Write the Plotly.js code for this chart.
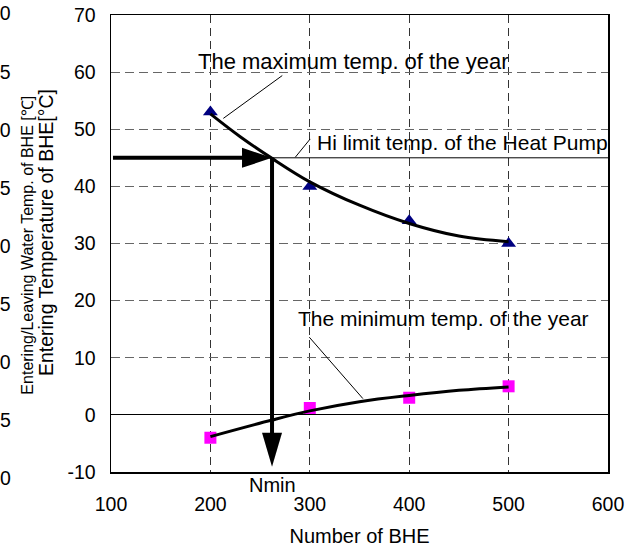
<!DOCTYPE html>
<html>
<head>
<meta charset="utf-8">
<script src="https://cdn.plot.ly/plotly-3.0.1.min.js"></script>
<style>html,body{margin:0;padding:0;background:#fff;}#chart{width:635px;height:551px;}</style>
</head>
<body>
<div id="chart"></div>
<script>
// ---- data ----
const bheCounts = [200, 300, 400, 500];
const maxTemp = [53, 40, 34, 30];
const minTemp = [-4, 1.2, 3, 5];

// trend curves
const maxCurveX = [200, 230, 262, 300, 350, 400, 450, 500];
const maxCurveY = [52.7, 48.7, 44.9, 40.8, 36.7, 33.5, 31.3, 30.3];
const minCurveX = [200, 262, 300, 350, 400, 450, 500];
const minCurveY = [-3.8, -0.9, 0.7, 2.3, 3.4, 4.3, 4.9];

// design point
const nMin = 262;
const hiLimit = 45;
const arrowStartX = 102;
const arrowTipY = -9.1;

// tick labels
const xTickVals = [100, 200, 300, 400, 500, 600];
const yTickVals = [-10, 0, 10, 20, 30, 40, 50, 60, 70];
// second (cut-off) scale on the far left: 0..40
const y2TickVals = [0, 5, 10, 15, 20, 25, 30, 35, 40];
const y2PaperBase = -0.0138;  // paper height where the second scale reads 0
const y2PaperStep = 0.02543;  // paper height per unit of the second scale

// leader lines [x0, y0, x1, y1]
const maxLeader = [213, 51.9, 272.3, 59.4];
const hiLeader = [285.4, 45.1, 300.4, 48.3];
const minLeader = [299.5, 13.6, 353.4, 2.85];

const FONT = "Arial, 'Liberation Sans', sans-serif";

const traces = [
  {x: bheCounts, y: maxTemp, type: 'scatter', mode: 'markers',
   marker: {symbol: 'triangle-up', size: 13, color: '#000080'}, showlegend: false, cliponaxis: false},
  {x: bheCounts, y: minTemp, type: 'scatter', mode: 'markers',
   marker: {symbol: 'square', size: 12, color: '#FF00FF'}, showlegend: false, cliponaxis: false},
  {x: maxCurveX, y: maxCurveY, type: 'scatter', mode: 'lines',
   line: {color: '#000', width: 3, shape: 'spline', smoothing: 1}, showlegend: false},
  {x: minCurveX, y: minCurveY, type: 'scatter', mode: 'lines',
   line: {color: '#000', width: 3, shape: 'spline', smoothing: 1}, showlegend: false}
];

function seg(c, w) {
  return {type: 'line', xref: 'x', yref: 'y', x0: c[0], y0: c[1], x1: c[2], y1: c[3],
          line: {color: '#000', width: w}};
}

const shapes = [
  {type: 'line', xref: 'x', yref: 'y', x0: nMin, x1: 600, y0: hiLimit, y1: hiLimit,
   line: {color: '#000', width: 1}},
  {type: 'line', xref: 'x', yref: 'y', x0: arrowStartX, x1: nMin - 20, y0: hiLimit, y1: hiLimit,
   line: {color: '#000', width: 4}},
  {type: 'path', xref: 'x', yref: 'y', xsizemode: 'pixel', ysizemode: 'pixel',
   xanchor: nMin, yanchor: hiLimit, path: 'M0,0 L-30,10 L-30,-10 Z',
   fillcolor: '#000', line: {width: 0}},
  {type: 'line', xref: 'x', yref: 'y', x0: nMin, x1: nMin, y0: hiLimit, y1: arrowTipY + 4,
   line: {color: '#000', width: 4}},
  {type: 'path', xref: 'x', yref: 'y', xsizemode: 'pixel', ysizemode: 'pixel',
   xanchor: nMin, yanchor: arrowTipY, path: 'M0,0 L-10,34 L10,34 Z',
   fillcolor: '#000', line: {width: 0}},
  seg(maxLeader, 1), seg(hiLeader, 1), seg(minLeader, 1)
];

const annotations = [
  {text: 'The maximum temp. of the year', x: 343.8, y: 61.9, xref: 'x', yref: 'y',
   xanchor: 'center', yanchor: 'middle',
   showarrow: false, font: {family: FONT, size: 22, color: '#000'}},
  {text: 'Hi limit temp. of the Heat Pump', x: 305, y: 47.6, xref: 'x', yref: 'y',
   xanchor: 'left', yanchor: 'middle',
   showarrow: false, font: {family: FONT, size: 21, color: '#000'}},
  {text: 'The minimum temp. of the year', x: 434.8, y: 16.8, xref: 'x', yref: 'y',
   xanchor: 'center', yanchor: 'middle',
   showarrow: false, font: {family: FONT, size: 21, color: '#000'}},
  {text: 'Nmin', x: nMin, y: -0.029, xref: 'x', yref: 'paper', xanchor: 'center', yanchor: 'middle',
   showarrow: false, font: {family: FONT, size: 20, color: '#000'}},
  {text: 'Entering Temperature of BHE[°C]', x: -0.1292, y: 0.5245, xref: 'paper', yref: 'paper',
   xanchor: 'center', yanchor: 'middle',
   textangle: -90, showarrow: false, font: {family: FONT, size: 19.5, color: '#000'}},
  {text: 'Entering/Leaving Water Temp. of BHE [℃]', x: -0.1684, y: 0.496, xref: 'paper', yref: 'paper',
   xanchor: 'center', yanchor: 'middle',
   textangle: -90, showarrow: false, font: {family: FONT, size: 16, color: '#000'}}
];

// cut-off second scale labels at the far left edge
y2TickVals.forEach(function (v) {
  annotations.push({text: String(v), x: -0.1966, y: y2PaperBase + v * y2PaperStep,
    xref: 'paper', yref: 'paper',
    xanchor: 'right', yanchor: 'middle', showarrow: false,
    font: {family: FONT, size: 19.5, color: '#000'}});
});

const layout = {
  width: 635, height: 551,
  margin: {l: 111, r: 27, t: 15, b: 79, pad: 0},
  paper_bgcolor: '#fff', plot_bgcolor: '#fff',
  font: {family: FONT, color: '#000'},
  showlegend: false,
  xaxis: {
    range: [100, 600], tickvals: xTickVals, ticktext: xTickVals.map(String),
    showgrid: true, gridcolor: '#333', griddash: '8px,5px', gridwidth: 1,
    showline: true, linecolor: '#000', linewidth: 1.5, mirror: true,
    zeroline: false, ticks: '', ticklabelstandoff: 14,
    tickfont: {family: FONT, size: 19.5, color: '#000'},
    title: {text: 'Number of BHE', font: {family: FONT, size: 20, color: '#000'}, standoff: 15},
    automargin: false
  },
  yaxis: {
    range: [-10, 70], tickvals: yTickVals, ticktext: yTickVals.map(String),
    showgrid: true, gridcolor: '#666', griddash: '9px,5px', gridwidth: 1,
    showline: true, linecolor: '#000', linewidth: 1.5, mirror: true,
    zeroline: true, zerolinecolor: '#000', zerolinewidth: 1,
    ticks: '', ticklabelstandoff: 10,
    tickfont: {family: FONT, size: 19.5, color: '#000'},
    automargin: false
  },
  shapes: shapes,
  annotations: annotations
};

Plotly.newPlot('chart', traces, layout, {displayModeBar: false, staticPlot: true});
</script>
</body>
</html>
